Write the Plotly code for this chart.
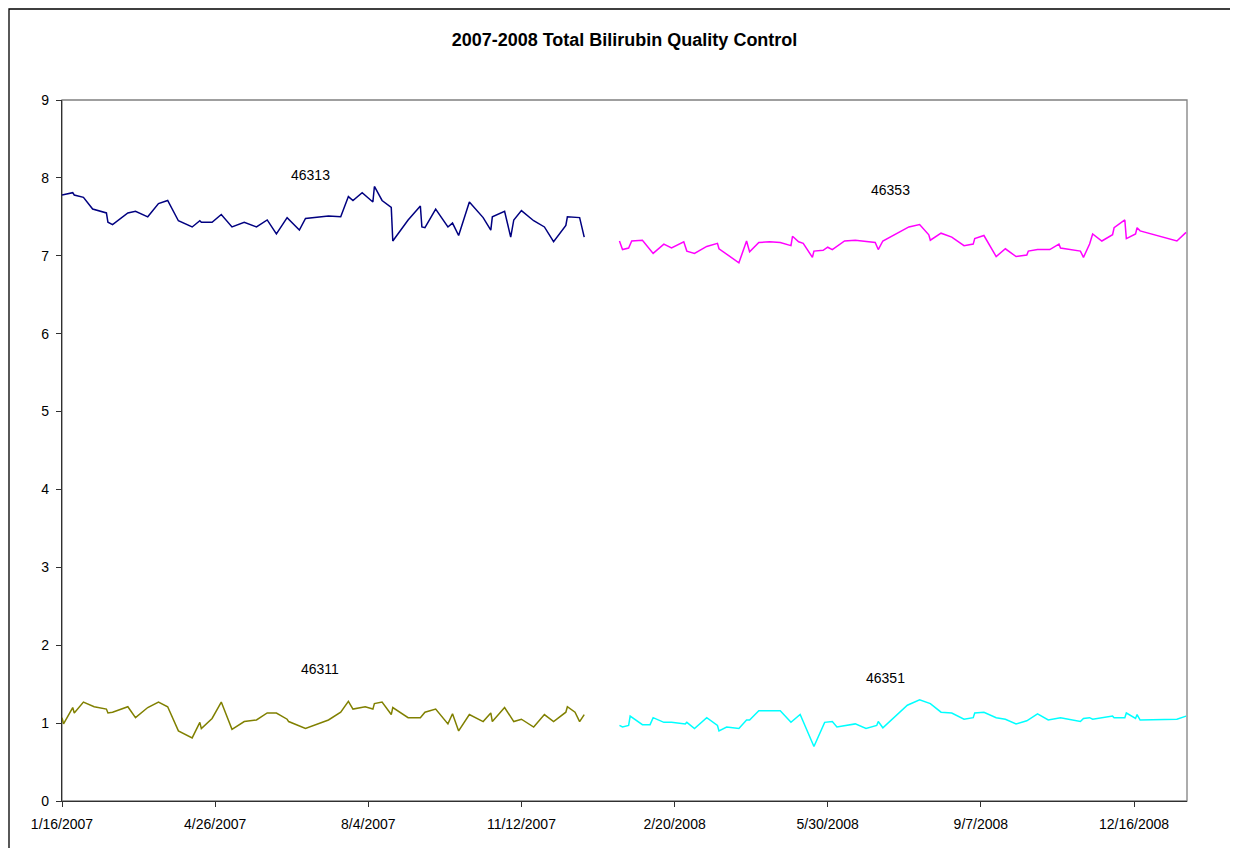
import pandas as pd
import plotly.graph_objects as go

START = "2007-01-16"

# Days after 1/16/2007 and values
days_46313 = [0, 7, 8, 14, 20, 29, 30, 33, 43, 48, 56, 63, 69, 76, 85, 90, 91, 98, 104, 111,
              119, 127, 134, 140, 147, 155, 159, 174, 182, 187, 190, 196, 203, 204, 209, 215, 216, 226, 234, 235,
              237, 244, 252, 255, 259, 266, 275, 280, 281, 289, 293, 295, 300, 308, 315, 321, 329, 330, 338, 341]
vals_46313 = [7.78, 7.81, 7.78, 7.75, 7.60, 7.55, 7.43, 7.40, 7.55, 7.57, 7.50, 7.67, 7.71, 7.45, 7.37, 7.45, 7.43, 7.43, 7.53, 7.37,
              7.43, 7.37, 7.46, 7.28, 7.49, 7.33, 7.48, 7.51, 7.50, 7.76, 7.71, 7.81, 7.69, 7.89, 7.71, 7.62, 7.19, 7.46, 7.64, 7.37,
              7.36, 7.60, 7.37, 7.42, 7.26, 7.69, 7.49, 7.33, 7.50, 7.57, 7.24, 7.46, 7.58, 7.45, 7.37, 7.18, 7.39, 7.50, 7.49, 7.24]

days_46311 = [0, 1, 7, 8, 14, 21, 29, 30, 33, 43, 48, 56, 63, 69, 76, 85, 90, 91, 98, 104, 111,
              119, 127, 134, 140, 147, 148, 159, 174, 182, 187, 190, 198, 203, 204, 209, 215, 216, 226, 234, 237,
              244, 252, 255, 259, 266, 275, 280, 281, 289, 295, 300, 308, 315, 321, 329, 330, 335, 338, 341]
vals_46311 = [1.07, 0.99, 1.20, 1.13, 1.27, 1.21, 1.18, 1.13, 1.14, 1.21, 1.07, 1.20, 1.27, 1.21, 0.90, 0.81, 1.01, 0.93, 1.06, 1.27, 0.92,
              1.02, 1.04, 1.13, 1.13, 1.05, 1.02, 0.93, 1.04, 1.14, 1.28, 1.18, 1.21, 1.18, 1.25, 1.27, 1.11, 1.20, 1.07, 1.07, 1.14,
              1.18, 0.99, 1.12, 0.90, 1.11, 1.02, 1.13, 1.02, 1.20, 1.02, 1.05, 0.95, 1.11, 1.02, 1.14, 1.21, 1.14, 1.02, 1.11]

days_46353 = [364, 366, 370, 372, 379, 384, 386, 393, 398, 406, 408, 413, 421, 428, 429, 442, 447, 449, 455, 462,
              469, 476, 477, 481, 484, 490, 491, 497, 500, 503, 511, 518, 531, 533, 536, 553, 560, 566, 567, 574,
              581, 589, 595, 596, 602, 610, 616, 623, 630, 631, 637, 645, 651, 652, 665, 667, 671, 673, 679, 686,
              687, 694, 695, 701, 702, 704, 728, 734]
vals_46353 = [7.19, 7.08, 7.10, 7.19, 7.20, 7.08, 7.03, 7.15, 7.10, 7.18, 7.06, 7.03, 7.12, 7.16, 7.09, 6.91, 7.19, 7.05, 7.17, 7.18,
              7.17, 7.13, 7.25, 7.18, 7.16, 6.98, 7.06, 7.07, 7.11, 7.08, 7.19, 7.20, 7.17, 7.08, 7.19, 7.37, 7.40, 7.27, 7.20, 7.29,
              7.24, 7.13, 7.15, 7.22, 7.26, 6.99, 7.09, 6.99, 7.01, 7.06, 7.08, 7.08, 7.15, 7.10, 7.06, 6.98, 7.15, 7.28, 7.19, 7.27,
              7.36, 7.46, 7.22, 7.28, 7.36, 7.32, 7.19, 7.30]

days_46351 = [364, 366, 370, 371, 379, 384, 386, 393, 398, 407, 408, 413, 421, 428, 429, 434, 442, 447, 449, 455,
              469, 476, 482, 491, 498, 503, 506, 518, 525, 532, 533, 536, 552, 560, 567, 574, 581, 589, 595, 596,
              602, 610, 616, 623, 630, 637, 644, 652, 665, 667, 671, 673, 686, 687, 694, 695, 701, 702, 704, 728, 734]
vals_46351 = [0.97, 0.95, 0.97, 1.09, 0.98, 0.98, 1.07, 1.01, 1.01, 0.99, 1.01, 0.93, 1.07, 0.97, 0.90, 0.95, 0.93, 1.04, 1.04, 1.16,
              1.16, 1.01, 1.11, 0.70, 1.01, 1.02, 0.95, 0.99, 0.93, 0.97, 1.02, 0.94, 1.23, 1.30, 1.25, 1.14, 1.13, 1.05, 1.07, 1.13,
              1.14, 1.07, 1.05, 0.99, 1.03, 1.12, 1.04, 1.07, 1.02, 1.06, 1.07, 1.05, 1.09, 1.07, 1.07, 1.13, 1.06, 1.11, 1.04, 1.05,
              1.09]

series_names = ["46313", "46311", "46353", "46351"]
series_colors = ["#000080", "#808000", "#FF00FF", "#00FFFF"]

# label placement (days, value)
label_days = [162, 168.5, 540.7, 537.5]
label_vals = [8.04, 1.69, 7.84, 1.58]

tick_days = [0, 100, 200, 300, 400, 500, 600, 700]
y_ticks = [0, 1, 2, 3, 4, 5, 6, 7, 8, 9]

base = pd.Timestamp(START)


def to_dates(days):
    return [base + pd.Timedelta(days=d) for d in days]


FONT = "Liberation Sans, Arial, sans-serif"

fig = go.Figure()
all_days = [days_46313, days_46311, days_46353, days_46351]
all_vals = [vals_46313, vals_46311, vals_46353, vals_46351]
for name, color, d, v in zip(series_names, series_colors, all_days, all_vals):
    fig.add_trace(go.Scatter(x=to_dates(d), y=v, mode="lines", name=name,
                             line=dict(color=color, width=1.5), showlegend=False))

for name, d, v in zip(series_names, label_days, label_vals):
    fig.add_annotation(x=base + pd.Timedelta(days=d), y=v, text=name, showarrow=False,
                       font=dict(family=FONT, size=14, color="black"))

tick_dates = to_dates(tick_days)
tick_text = [f"{t.month}/{t.day}/{t.year}" for t in tick_dates]

L, R, T, B = 54, 59, 92, 55
PW = 1238 - L - R
PH = 848 - T - B

fig.update_layout(
    width=1238, height=848,
    margin=dict(l=L, r=R, t=T, b=B),
    paper_bgcolor="white", plot_bgcolor="white",
    title=dict(text="<b>2007-2008 Total Bilirubin Quality Control</b>",
               x=616.5 / 1238, xanchor="center", y=1 - 32 / 848, yanchor="middle",
               font=dict(family=FONT, size=18, color="black")),
    font=dict(family=FONT, size=14, color="black"),
    xaxis=dict(type="date",
               range=[base, base + pd.Timedelta(days=734.6)],
               tickvals=tick_dates, ticktext=tick_text,
               showgrid=False, zeroline=False,
               showline=True, linecolor="#303030", linewidth=1.3,
               ticks="outside", ticklen=5, tickcolor="#303030",
               ticklabelstandoff=5,
               tickfont=dict(family=FONT, size=14, color="black")),
    yaxis=dict(range=[0, 9], tickvals=y_ticks,
               showgrid=False, zeroline=False,
               showline=True, linecolor="#303030", linewidth=1.3,
               ticks="outside", ticklen=5, tickcolor="#303030",
               ticklabelstandoff=4,
               tickfont=dict(family=FONT, size=14, color="black")),
)

# plot area border (grey) and outer chart frame
fig.add_shape(type="rect", xref="paper", yref="paper", x0=0, x1=1, y0=0, y1=1,
              line=dict(color="#808080", width=1.3), layer="below")
fig.add_shape(type="rect", xref="paper", yref="paper",
              x0=(1 - L) / PW, x1=1.3, y0=-0.3, y1=(848 - B - 1) / PH,
              line=dict(color="black", width=1.3), layer="below")

fig.write_html("out.html")
